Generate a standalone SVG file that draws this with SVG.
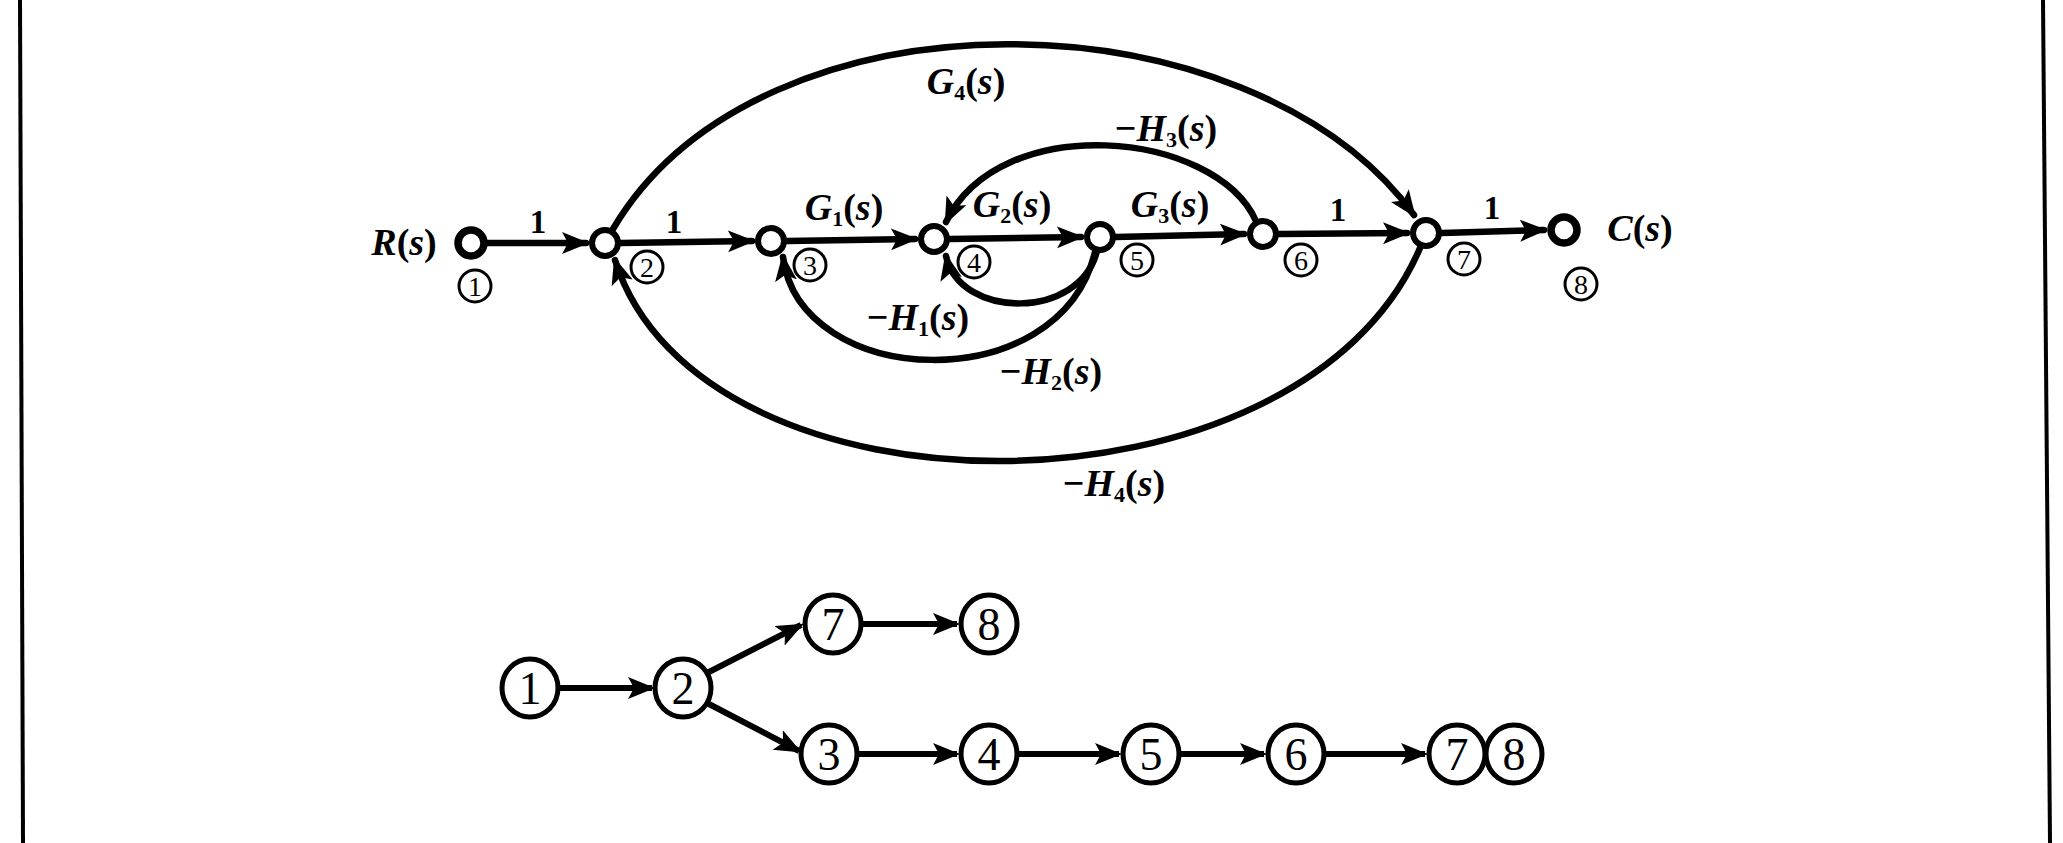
<svg xmlns="http://www.w3.org/2000/svg" width="2063" height="843" viewBox="0 0 2063 843">
<defs>
<style>
.edge{fill:none;stroke:#000;stroke-width:6.5;stroke-linecap:round}
.tedge{fill:none;stroke:#000;stroke-width:6}
.node{fill:#fff;stroke:#000;stroke-width:6}
.term{fill:#fff;stroke:#000;stroke-width:7.5}
.tag{fill:#fff;stroke:#000;stroke-width:3}
.tagt{font-family:"Liberation Serif","Times New Roman",serif;font-size:28px;text-anchor:middle;fill:#000}
.lbl{font-family:"Liberation Serif","Times New Roman",serif;font-size:38px;font-weight:bold;fill:#000;text-anchor:middle}
.it{font-style:italic}
.sub{font-size:22px}
.one{font-family:"Liberation Serif","Times New Roman",serif;font-size:33px;font-weight:bold;fill:#000;text-anchor:middle}
.tn{fill:#fff;stroke:#000;stroke-width:5}
.tnt{font-family:"Liberation Serif","Times New Roman",serif;font-size:46px;text-anchor:middle;fill:#000}
.frame{stroke:#000;stroke-width:4;fill:none}
</style>
<marker id="ah" markerUnits="userSpaceOnUse" markerWidth="30" markerHeight="24" refX="24" refY="11" orient="auto">
<path d="M0,0 L27,11 L0,22 L6,11 Z" fill="#000"/>
</marker>
</defs>
<rect width="2063" height="843" fill="#fff"/>
<line class="frame" x1="20" y1="0" x2="23" y2="843"/>
<line class="frame" x1="2043" y1="0" x2="2050" y2="843"/>

<g id="connectors">
<line class="edge" x1="487" y1="243" x2="586" y2="243" marker-end="url(#ah)"/>
<line class="edge" x1="621" y1="243" x2="752" y2="241" marker-end="url(#ah)"/>
<line class="edge" x1="787" y1="241" x2="915" y2="239" marker-end="url(#ah)"/>
<line class="edge" x1="950" y1="239" x2="1081" y2="237" marker-end="url(#ah)"/>
<line class="edge" x1="1116" y1="237" x2="1244" y2="234" marker-end="url(#ah)"/>
<line class="edge" x1="1279" y1="234" x2="1407" y2="233" marker-end="url(#ah)"/>
<line class="edge" x1="1442" y1="233" x2="1544" y2="230" marker-end="url(#ah)"/>
<path class="edge" d="M613,229 C760,-20 1250,-10 1414,215" marker-end="url(#ah)"/>
<path class="edge" d="M1256,221 C1215,130 1000,110 946,222" marker-end="url(#ah)"/>
<path class="edge" d="M1097,251 C1080,320 960,320 946,256" marker-end="url(#ah)"/>
<path class="edge" d="M1095,252 C1060,400 800,390 783,257" marker-end="url(#ah)"/>
<path class="edge" d="M1420,248 C1300,530 700,530 615,260" marker-end="url(#ah)"/>
<text class="one" x="538" y="233">1</text>
<text class="one" x="674" y="233">1</text>
<text class="one" x="1338" y="221">1</text>
<text class="one" x="1492" y="219">1</text>
<text class="lbl" x="844" y="220"><tspan class="it">G</tspan><tspan class="sub" dy="6">1</tspan><tspan dy="-6">(</tspan><tspan class="it">s</tspan>)</text>
<text class="lbl" x="1012" y="217"><tspan class="it">G</tspan><tspan class="sub" dy="6">2</tspan><tspan dy="-6">(</tspan><tspan class="it">s</tspan>)</text>
<text class="lbl" x="1170" y="217"><tspan class="it">G</tspan><tspan class="sub" dy="6">3</tspan><tspan dy="-6">(</tspan><tspan class="it">s</tspan>)</text>
<text class="lbl" x="966" y="94"><tspan class="it">G</tspan><tspan class="sub" dy="6">4</tspan><tspan dy="-6">(</tspan><tspan class="it">s</tspan>)</text>
<text class="lbl" x="1166" y="141">−<tspan class="it">H</tspan><tspan class="sub" dy="6">3</tspan><tspan dy="-6">(</tspan><tspan class="it">s</tspan>)</text>
<text class="lbl" x="918" y="330">−<tspan class="it">H</tspan><tspan class="sub" dy="6">1</tspan><tspan dy="-6">(</tspan><tspan class="it">s</tspan>)</text>
<text class="lbl" x="1051" y="384">−<tspan class="it">H</tspan><tspan class="sub" dy="6">2</tspan><tspan dy="-6">(</tspan><tspan class="it">s</tspan>)</text>
<text class="lbl" x="1114" y="496">−<tspan class="it">H</tspan><tspan class="sub" dy="6">4</tspan><tspan dy="-6">(</tspan><tspan class="it">s</tspan>)</text>
</g>

<g id="node-1">
<circle class="term" cx="471" cy="243" r="13"/>
<text class="lbl" x="404" y="255"><tspan class="it">R</tspan>(<tspan class="it">s</tspan>)</text>
<circle class="tag" cx="475" cy="286" r="16"/><text class="tagt" x="475" y="296">1</text>
</g>
<g id="node-2">
<circle class="node" cx="605" cy="243" r="13"/>
<circle class="tag" cx="647" cy="267" r="16"/><text class="tagt" x="647" y="277">2</text>
</g>
<g id="node-3">
<circle class="node" cx="771" cy="241" r="13"/>
<circle class="tag" cx="810" cy="265" r="16"/><text class="tagt" x="810" y="275">3</text>
</g>
<g id="node-4">
<circle class="node" cx="934" cy="239" r="13"/>
<circle class="tag" cx="974" cy="262" r="16"/><text class="tagt" x="974" y="272">4</text>
</g>
<g id="node-5">
<circle class="node" cx="1100" cy="237" r="13"/>
<circle class="tag" cx="1137" cy="260" r="16"/><text class="tagt" x="1137" y="270">5</text>
</g>
<g id="node-6">
<circle class="node" cx="1263" cy="234" r="13"/>
<circle class="tag" cx="1301" cy="260" r="16"/><text class="tagt" x="1301" y="270">6</text>
</g>
<g id="node-7">
<circle class="node" cx="1426" cy="233" r="13"/>
<circle class="tag" cx="1464" cy="259" r="16"/><text class="tagt" x="1464" y="269">7</text>
</g>
<g id="node-8">
<circle class="term" cx="1564" cy="230" r="13"/>
<text class="lbl" x="1640" y="241"><tspan class="it">C</tspan>(<tspan class="it">s</tspan>)</text>
<circle class="tag" cx="1581" cy="284" r="16"/><text class="tagt" x="1581" y="294">8</text>
</g>

<g id="tree-connectors">
<line class="tedge" x1="558" y1="688" x2="652" y2="688" marker-end="url(#ah)"/>
<line class="tedge" x1="707" y1="673" x2="801" y2="625" marker-end="url(#ah)"/>
<line class="tedge" x1="862" y1="624" x2="957" y2="624" marker-end="url(#ah)"/>
<line class="tedge" x1="707" y1="703" x2="799" y2="751" marker-end="url(#ah)"/>
<line class="tedge" x1="858" y1="754" x2="957" y2="754" marker-end="url(#ah)"/>
<line class="tedge" x1="1018" y1="754" x2="1119" y2="754" marker-end="url(#ah)"/>
<line class="tedge" x1="1180" y1="754" x2="1264" y2="754" marker-end="url(#ah)"/>
<line class="tedge" x1="1325" y1="754" x2="1425" y2="754" marker-end="url(#ah)"/>
</g>
<g id="tree-node-1"><ellipse class="tn" cx="530" cy="688" rx="28" ry="29"/><text class="tnt" x="530" y="704">1</text></g>
<g id="tree-node-2"><ellipse class="tn" cx="683" cy="688" rx="28" ry="29"/><text class="tnt" x="683" y="704">2</text></g>
<g id="tree-node-7a"><ellipse class="tn" cx="833" cy="624" rx="28" ry="29"/><text class="tnt" x="833" y="640">7</text></g>
<g id="tree-node-8a"><ellipse class="tn" cx="989" cy="624" rx="28" ry="29"/><text class="tnt" x="989" y="640">8</text></g>
<g id="tree-node-3"><ellipse class="tn" cx="829" cy="754" rx="28" ry="29"/><text class="tnt" x="829" y="770">3</text></g>
<g id="tree-node-4"><ellipse class="tn" cx="989" cy="754" rx="28" ry="29"/><text class="tnt" x="989" y="770">4</text></g>
<g id="tree-node-5"><ellipse class="tn" cx="1151" cy="754" rx="28" ry="29"/><text class="tnt" x="1151" y="770">5</text></g>
<g id="tree-node-6"><ellipse class="tn" cx="1296" cy="754" rx="28" ry="29"/><text class="tnt" x="1296" y="770">6</text></g>
<g id="tree-node-7b"><ellipse class="tn" cx="1457" cy="754" rx="28" ry="29"/><text class="tnt" x="1457" y="770">7</text></g>
<g id="tree-node-8b"><ellipse class="tn" cx="1514" cy="754" rx="28" ry="29"/><text class="tnt" x="1514" y="770">8</text></g>
</svg>
